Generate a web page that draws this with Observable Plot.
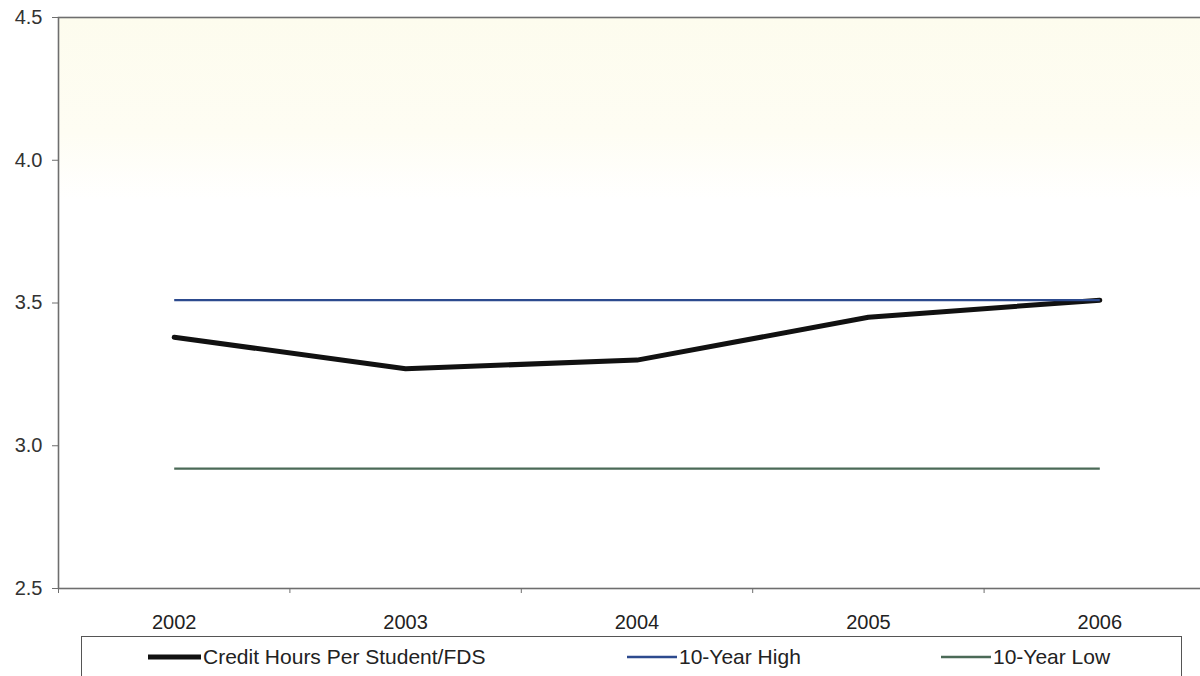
<!DOCTYPE html>
<html>
<head>
<meta charset="utf-8">
<script src="https://cdn.jsdelivr.net/npm/d3@7"></script>
<script src="https://cdn.jsdelivr.net/npm/@observablehq/plot@0.6"></script>
<style>
  html, body { margin: 0; padding: 0; background: #fff; overflow: hidden; width: 1200px; height: 676px; }
  #wrap { position: relative; width: 1200px; height: 676px; font-family: Arial, "Liberation Sans", sans-serif; }
  #legend { position: absolute; left: 81px; top: 636px; width: 1101px; height: 56px; border: 1.5px solid #555; box-sizing: border-box; background: #fff; }
  .item { position: absolute; top: 8px; display: flex; align-items: center; font-size: 21px; color: #222; white-space: nowrap; }
  .item svg { display: block; margin-right: 2px; }
</style>
</head>
<body>
<div id="wrap"><div id="chart"></div><div id="legend"></div></div>
<script>
// ---- data ----
const years = [2002, 2003, 2004, 2005, 2006];
const creditHours = [3.38, 3.27, 3.30, 3.45, 3.51];
const tenYearHigh = [3.51, 3.51, 3.51, 3.51, 3.51];
const tenYearLow = [2.92, 2.92, 2.92, 2.92, 2.92];
const yTicks = [2.5, 3.0, 3.5, 4.0, 4.5];
const seriesNames = ["Credit Hours Per Student/FDS", "10-Year High", "10-Year Low"];
const seriesColors = ["#111111", "#2c4a8e", "#4b6a57"];
const seriesWidths = [5, 2.4, 2.4];

// ---- derived tables ----
const rows = [];
const seriesValues = [creditHours, tenYearHigh, tenYearLow];
seriesNames.forEach((name, i) => years.forEach((yr, j) => rows.push({series: name, year: yr, value: seriesValues[i][j]})));
const boundaries = [years[0] - 0.5, ...years.map(y => y + 0.5)];

const chart = Plot.plot({
  width: 1215,
  height: 636,
  marginLeft: 58,
  marginRight: 0,
  marginTop: 17,
  marginBottom: 48,
  style: {maxWidth: "none", fontFamily: "Arial, 'Liberation Sans', sans-serif", background: "transparent", overflow: "visible"},
  x: {type: "linear", domain: [boundaries[0], boundaries[boundaries.length - 1]]},
  y: {domain: [yTicks[0], yTicks[yTicks.length - 1]]},
  marks: [
    Plot.frame({fill: "url(#bgGrad)", stroke: null}),
    Plot.frame({stroke: "#6e6e6e", strokeWidth: 1.6, fill: "none"}),
    Plot.axisY({ticks: yTicks, tickSize: 6, tickPadding: 10, tickFormat: d3.format(".1f"), fontSize: 20, color: "#333", label: null, stroke: "#6e6e6e"}),
    Plot.axisX({ticks: years, tickSize: 0, tickPadding: 26, tickFormat: d => String(d), fontSize: 20, color: "#222", label: null}),
    Plot.axisX({ticks: boundaries, tickSize: 5, tickFormat: () => "", label: null, stroke: "#6e6e6e"}),
    ...seriesNames.map((name, i) => Plot.line(rows.filter(r => r.series === name), {
      x: "year", y: "value", stroke: seriesColors[i], strokeWidth: seriesWidths[i],
      strokeLinecap: i === 0 ? "round" : "butt", strokeLinejoin: "round"
    }))
  ]
});

// gradient background for plot area (cream at the top fading to white)
const ns = "http://www.w3.org/2000/svg";
const defs = document.createElementNS(ns, "defs");
const grad = document.createElementNS(ns, "linearGradient");
grad.setAttribute("id", "bgGrad");
grad.setAttribute("x1", "0"); grad.setAttribute("y1", "0");
grad.setAttribute("x2", "0"); grad.setAttribute("y2", "1");
[["0", "#fdfcee"], ["0.2", "#fefdf3"], ["0.32", "#ffffff"], ["1", "#ffffff"]].forEach(([o, c]) => {
  const s = document.createElementNS(ns, "stop");
  s.setAttribute("offset", o); s.setAttribute("stop-color", c);
  grad.appendChild(s);
});
defs.appendChild(grad);
chart.insertBefore(defs, chart.firstChild);
chart.style.position = "absolute";
chart.style.left = "0px";
chart.style.top = "0px";
document.getElementById("chart").appendChild(chart);

// ---- legend ----
const legend = document.getElementById("legend");
const legendLeft = [66, 545, 859];
const swatchW = [53, 50, 50];
seriesNames.forEach((name, i) => {
  const it = document.createElement("div");
  it.className = "item";
  it.style.left = legendLeft[i] + "px";
  it.innerHTML = `<svg width="${swatchW[i]}" height="10"><line x1="0" x2="${swatchW[i]}" y1="5" y2="5" stroke="${seriesColors[i]}" stroke-width="${i === 0 ? 5 : 2.4}" stroke-linecap="${i === 0 ? "round" : "butt"}"/></svg><span>${name}</span>`;
  legend.appendChild(it);
});
</script>
</body>
</html>
